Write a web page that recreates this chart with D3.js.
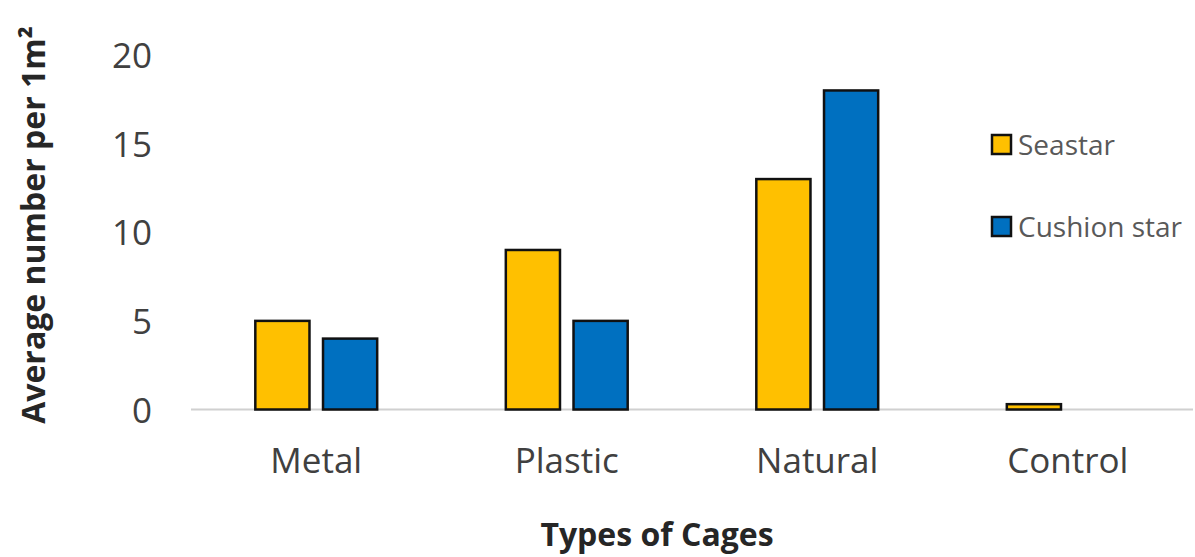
<!DOCTYPE html>
<html>
<head>
<meta charset="utf-8">
<script src="https://cdn.jsdelivr.net/npm/d3@7"></script>
<style>
  html, body { margin: 0; padding: 0; background: #fff; }
  svg { display: block; }
  text { font-family: "Open Sans", "Noto Sans", sans-serif; }
</style>
</head>
<body>
<svg id="chart" width="1195" height="557"></svg>
<script>
// Cage types and average counts per 1 m²
const categories = ["Metal", "Plastic", "Natural", "Control"];
const seriesNames = ["Seastar", "Cushion star"];
const seastar = [5, 9, 13, 0.3];
const cushionStar = [4, 5, 18, 0];
const yTicks = [0, 5, 10, 15, 20];
const colors = ["#FFC000", "#0070C0"];

const svg = d3.select("#chart");
const margin = { left: 191, right: 2, top: 55, bottom: 148 };
const W = 1195, H = 557;
const innerBottom = H - margin.bottom; // baseline y

const x = d3.scaleBand()
  .domain(categories)
  .range([margin.left, W - margin.right])
  .paddingInner(0)
  .paddingOuter(0);

const xSub = d3.scaleBand()
  .domain(seriesNames)
  .range([0, x.bandwidth()])
  .paddingInner(0.2)
  .paddingOuter(0.95);

const y = d3.scaleLinear().domain([0, 20]).range([innerBottom + 0.5, margin.top]);

const rows = categories.map((c, i) => ({
  category: c,
  values: [
    { series: seriesNames[0], value: seastar[i], color: colors[0] },
    { series: seriesNames[1], value: cushionStar[i], color: colors[1] }
  ]
}));

// Baseline
svg.append("line")
  .attr("x1", margin.left).attr("x2", W - margin.right)
  .attr("y1", y(0)).attr("y2", y(0))
  .attr("stroke", "#d0d0d0").attr("stroke-width", 2);

// Y axis labels
const yAxis = d3.axisLeft(y).tickValues(yTicks).tickSize(0).tickPadding(0);
const yG = svg.append("g").attr("transform", `translate(152,0)`).call(yAxis);
yG.select(".domain").remove();
yG.selectAll("text")
  .attr("font-size", 35)
  .attr("fill", "#404040")
  .attr("text-anchor", "end")
  .attr("dy", "0.36em")
  .style("font-family", "'Open Sans', sans-serif");

// Bars
const groups = svg.selectAll("g.cat").data(rows).join("g")
  .attr("class", "cat")
  .attr("transform", d => `translate(${x(d.category)},0)`);

groups.selectAll("rect").data(d => d.values.filter(v => v.value > 0)).join("rect")
  .attr("x", v => xSub(v.series))
  .attr("width", xSub.bandwidth())
  .attr("y", v => y(v.value))
  .attr("height", v => y(0) - y(v.value))
  .attr("fill", v => v.color)
  .attr("stroke", "#111")
  .attr("stroke-width", 2.5);

// X axis labels
const xAxis = d3.axisBottom(x).tickSize(0).tickPadding(0);
const xG = svg.append("g").attr("transform", `translate(0,473)`).call(xAxis);
xG.select(".domain").remove();
xG.selectAll("text")
  .attr("font-size", 35)
  .attr("fill", "#404040")
  .attr("dy", "0")
  .style("font-family", "'Open Sans', sans-serif");

// Axis titles
svg.append("text")
  .attr("x", 657)
  .attr("y", 546)
  .attr("text-anchor", "middle")
  .attr("font-size", 32)
  .attr("font-weight", "bold")
  .attr("fill", "#262626")
  .text("Types of Cages");

svg.append("text")
  .attr("transform", `translate(45,225) rotate(-90)`)
  .attr("text-anchor", "middle")
  .attr("font-size", 32)
  .attr("font-weight", "bold")
  .attr("fill", "#262626")
  .text("Average number per 1m²");

// Legend
const legend = svg.append("g").attr("transform", "translate(992,135)");
const items = legend.selectAll("g").data(seriesNames).join("g")
  .attr("transform", (d, i) => `translate(0,${i * 82})`);
items.append("rect")
  .attr("x", 0).attr("y", 0).attr("width", 19).attr("height", 19)
  .attr("fill", (d, i) => colors[i])
  .attr("stroke", "#111").attr("stroke-width", 2.5);
items.append("text")
  .attr("x", 26).attr("y", 10)
  .attr("dy", "0.36em")
  .attr("font-size", 28)
  .attr("fill", "#595959")
  .text(d => d);
</script>
</body>
</html>
